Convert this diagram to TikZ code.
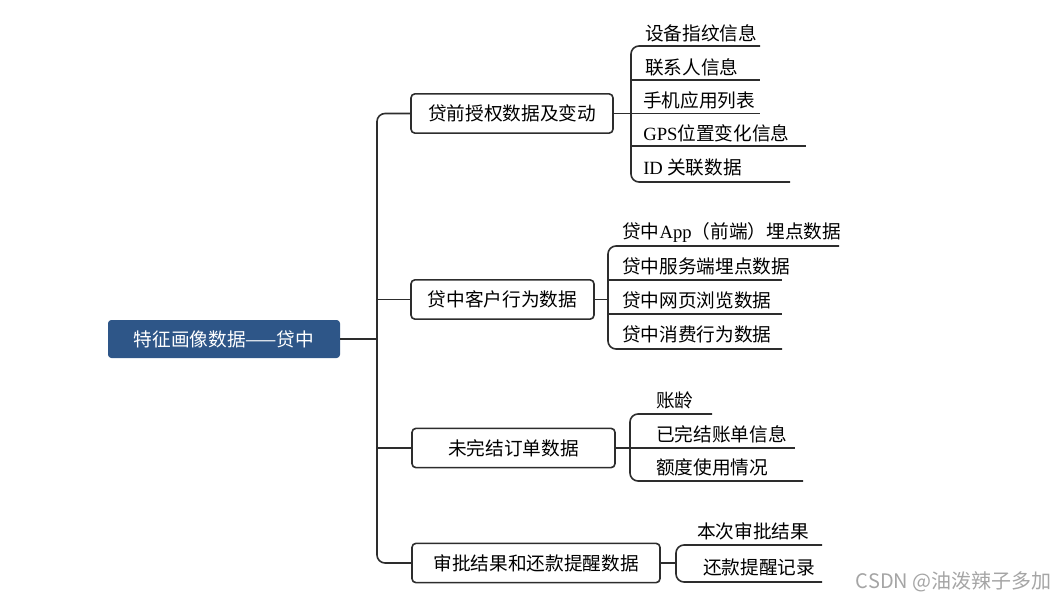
\documentclass[tikz,border=0pt]{standalone}
\usepackage{fontspec}
\setmainfont{Noto Sans CJK SC}
\newfontfamily\lat{Liberation Serif}
\newfontfamily\wmfont{Noto Sans CJK SC}
\definecolor{rootblue}{RGB}{46,86,136}
\definecolor{linegray}{RGB}{45,45,45}
\definecolor{wmgray}{RGB}{165,165,165}
\begin{document}
\begin{tikzpicture}[x=0.75pt,y=-0.75pt,
  every node/.style={inner sep=0pt, font=\fontsize{14}{16}\selectfont},
  conn/.style={draw=linegray, line width=1.2pt},
  rootbox/.style={fill=rootblue, text=white, rounded corners=2.5pt, minimum height=28.5pt, minimum width=174pt},
  branchbox/.style={draw=linegray, line width=1.2pt, fill=white, rounded corners=3pt, minimum height=29.5pt},
  leaf/.style={anchor=west, text=black},
  wm/.style={font=\wmfont\fontsize{15}{17}\selectfont, text=wmgray, anchor=east}
]
\useasboundingbox (0,0) rectangle (1057,600);

% root
\node[rootbox] (root) at (224,339) {特征画像数据——贷中};

% branches
\node[branchbox, minimum width=151.5pt] (b1) at (512,113.5) {贷前授权数据及变动};
\node[branchbox, minimum width=137.25pt] (b2) at (502.5,299.5) {贷中客户行为数据};
\node[branchbox, minimum width=152.25pt] (b3) at (513.5,448) {未完结订单数据};
\node[branchbox, minimum width=186pt] (b4) at (536,563) {审批结果和还款提醒数据};

% trunk
\coordinate (tx) at (377,339);
\draw[conn] (root.east) -- (tx);
\draw[conn, rounded corners=6pt] (b1.west) -- (b1.west -| tx) -- (b4.west -| tx) -- (b4.west);
\draw[conn] (b2.west -| tx) -- (b2.west);
\draw[conn] (b3.west -| tx) -- (b3.west);

% group 1
\node[leaf] (a1) at (645,33) {设备指纹信息};
\node[leaf] (a2) at (645,67) {联系人信息};
\node[leaf] (a3) at (643,100) {手机应用列表};
\node[leaf] (a4) at (643,133) {{\lat GPS}位置变化信息};
\node[leaf] (a5) at (643,167) {{\lat ID} 关联数据};
\coordinate (a1e) at (760,46);
\coordinate (a2e) at (760,80);
\coordinate (a3e) at (760,113.5);
\coordinate (a4e) at (806,146);
\coordinate (a5e) at (790,182);
\coordinate (v1) at (631,113.5);
\draw[conn] (b1.east) -- (v1);
\draw[conn, rounded corners=6pt] (a1e) -- (a1e -| v1) -- (a5e -| v1) -- (a5e);
\draw[conn] (a2e -| v1) -- (a2e);
\draw[conn] (a3e -| v1) -- (a3e);
\draw[conn] (a4e -| v1) -- (a4e);

% group 2
\node[leaf] (c1) at (622,232) {贷中{\lat App}（前端）埋点数据};
\node[leaf] (c2) at (622,266) {贷中服务端埋点数据};
\node[leaf] (c3) at (622,300) {贷中网页浏览数据};
\node[leaf] (c4) at (622,334) {贷中消费行为数据};
\coordinate (c1e) at (839,246);
\coordinate (c2e) at (782,280);
\coordinate (c3e) at (782,314);
\coordinate (c4e) at (782,349);
\coordinate (v2) at (608,299.5);
\draw[conn] (b2.east) -- (v2);
\draw[conn, rounded corners=6pt] (c1e) -- (c1e -| v2) -- (c4e -| v2) -- (c4e);
\draw[conn] (c2e -| v2) -- (c2e);
\draw[conn] (c3e -| v2) -- (c3e);

% group 3
\node[leaf] (d1) at (656,400) {账龄};
\node[leaf] (d2) at (656,434) {已完结账单信息};
\node[leaf] (d3) at (656,467) {额度使用情况};
\coordinate (d1e) at (712,414);
\coordinate (d2e) at (795,448);
\coordinate (d3e) at (803,481);
\coordinate (v3) at (630,448);
\draw[conn, rounded corners=6pt] (d1e) -- (d1e -| v3) -- (d3e -| v3) -- (d3e);
\draw[conn] (b3.east) -- (d2e);

% group 4
\node[leaf] (e1) at (697,531) {本次审批结果};
\node[leaf] (e2) at (703,567) {还款提醒记录};
\coordinate (e1e) at (822,545);
\coordinate (e2e) at (822,582);
\coordinate (v4) at (676,563);
\draw[conn] (b4.east) -- (v4);
\draw[conn, rounded corners=6pt] (e1e) -- (e1e -| v4) -- (e2e -| v4) -- (e2e);

% watermark
\node[wm] (wm) at (1052,582) {CSDN @油泼辣子多加};
\end{tikzpicture}
\end{document}
